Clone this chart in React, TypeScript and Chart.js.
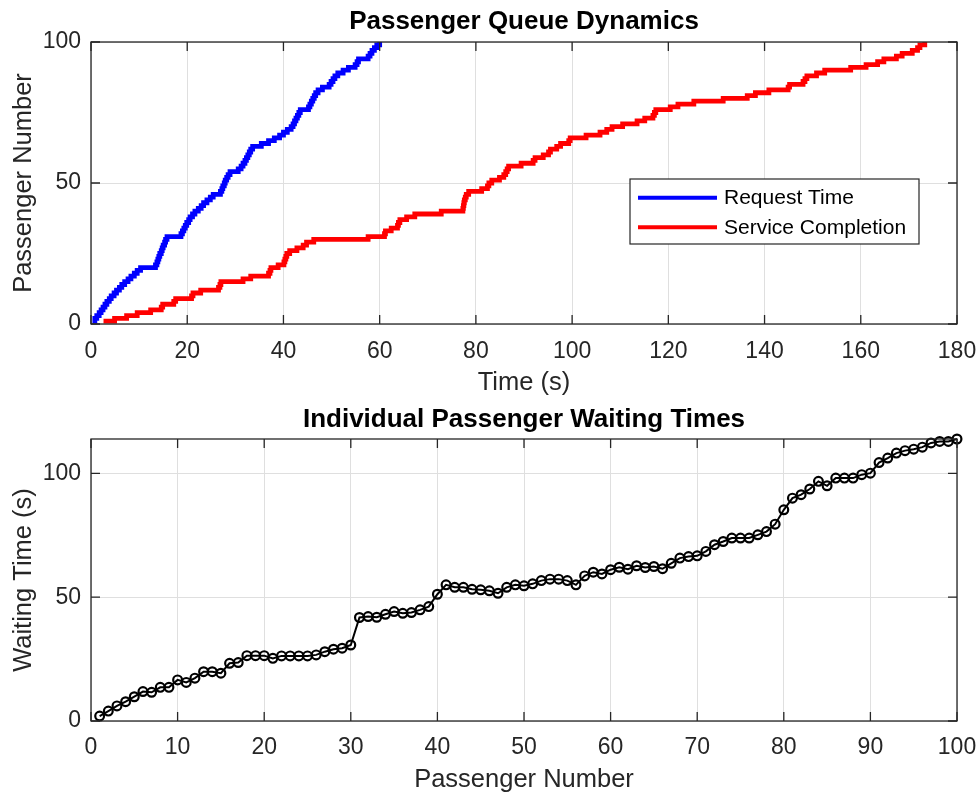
import React, { useEffect, useRef } from "react";
import { Chart, registerables } from "chart.js";

Chart.register(...registerables);

const FONT = "'Liberation Sans', Arial, Helvetica, sans-serif";
const AXIS_COLOR = "#262626";
const GRID_COLOR = "#dfdfdf";

// Time (s) at which each passenger (1..100) requested service
const requestTimes = [
  0.3, 0.8, 1.2, 1.7, 2.1, 2.5, 2.9, 3.3, 3.8, 4.2,
  4.8, 5.3, 5.9, 6.4, 7.0, 7.7, 8.3, 9.0, 9.6, 10.3,
  13.4, 13.7, 13.9, 14.1, 14.3, 14.6, 14.8, 15.0, 15.3, 15.5,
  15.8, 18.7, 19.0, 19.3, 19.6, 19.9, 20.3, 20.6, 21.1, 21.6,
  22.3, 22.9, 23.4, 24.1, 24.8, 25.4, 26.9, 27.2, 27.4, 27.7,
  27.9, 28.2, 28.5, 28.9, 30.6, 31.2, 31.6, 32.0, 32.3, 32.6,
  32.9, 33.2, 33.6, 35.4, 36.9, 38.1, 39.2, 40.0, 40.8, 41.6,
  42.0, 42.3, 42.6, 42.9, 43.2, 43.5, 45.2, 45.5, 45.8, 46.1,
  46.4, 46.7, 47.2, 48.1, 49.5, 49.9, 50.3, 50.7, 51.3, 52.4,
  53.5, 54.9, 55.3, 55.6, 57.6, 58.0, 58.4, 58.9, 59.4, 60.0,
];

// Time (s) at which each passenger's service was completed
const completionTimes = [
  2.6, 4.9, 7.4, 9.6, 12.4, 14.6, 14.9, 17.2, 17.6, 20.9,
  21.2, 22.8, 26.5, 26.8, 27.0, 31.6, 33.2, 36.9, 37.2, 37.4,
  38.9, 40.1, 40.3, 40.5, 40.7, 41.3, 42.8, 44.1, 44.8, 46.3,
  57.6, 61.0, 61.2, 62.4, 63.7, 63.9, 64.2, 65.6, 67.3, 72.8,
  77.3, 77.4, 77.5, 77.6, 77.8, 78.0, 78.5, 81.2, 82.4, 82.7,
  83.3, 84.9, 85.8, 86.2, 86.5, 86.8, 89.4, 91.9, 92.3, 94.0,
  95.1, 95.5, 96.8, 97.6, 99.3, 99.6, 102.9, 105.8, 107.2, 108.3,
  110.5, 113.5, 115.1, 116.8, 117.1, 117.4, 120.4, 122.0, 125.3, 131.4,
  136.4, 138.1, 140.9, 144.9, 145.2, 148.0, 148.4, 148.8, 150.8, 152.5,
  157.9, 161.1, 163.5, 164.8, 167.4, 168.6, 170.7, 171.8, 172.3, 173.3,
];

// Waiting time (s) of each passenger
const waitingTimes = [
  2.0, 4.0, 6.1, 7.8, 9.8, 11.9, 11.6, 13.6, 13.6, 16.6,
  15.6, 17.3, 19.9, 19.9, 19.3, 23.3, 23.6, 26.4, 26.4, 26.4,
  25.3, 26.3, 26.3, 26.3, 26.3, 26.7, 28.0, 29.0, 29.4, 30.7,
  41.8, 42.2, 41.9, 43.1, 44.2, 43.5, 43.8, 44.9, 46.2, 51.2,
  55.0, 54.0, 54.0, 53.2, 53.0, 52.6, 51.6, 54.0, 55.0, 54.6,
  55.4, 56.7, 57.3, 57.3, 56.7, 55.0, 58.6, 60.1, 59.4, 61.1,
  62.1, 61.3, 62.7, 62.0, 62.4, 61.5, 63.7, 65.8, 66.4, 66.7,
  68.5, 71.2, 72.5, 73.9, 73.9, 73.9, 75.2, 76.5, 79.5, 85.3,
  90.0, 91.4, 93.7, 96.8, 95.0, 98.1, 98.1, 98.1, 99.5, 100.1,
  104.4, 106.2, 108.2, 109.2, 109.8, 110.6, 112.3, 112.9, 112.9, 113.9,
];

// Axis tick values
const queueTimeTicks = [0, 20, 40, 60, 80, 100, 120, 140, 160, 180];
const queueCountTicks = [0, 50, 100];
const passengerTicks = [0, 10, 20, 30, 40, 50, 60, 70, 80, 90, 100];
const waitTicks = [0, 50, 100];

const TICK_LEN = 9;

// Box around the plot area with inward tick marks on all four sides
const framePlugin = {
  id: "axesFrame",
  afterDraw(chart: any) {
    const { ctx, chartArea: a, scales } = chart;
    ctx.save();
    ctx.strokeStyle = AXIS_COLOR;
    ctx.lineWidth = 1.3;
    ctx.beginPath();
    for (const t of scales.x.ticks) {
      const px = scales.x.getPixelForValue(t.value);
      ctx.moveTo(px, a.bottom);
      ctx.lineTo(px, a.bottom - TICK_LEN);
      ctx.moveTo(px, a.top);
      ctx.lineTo(px, a.top + TICK_LEN);
    }
    for (const t of scales.y.ticks) {
      const py = scales.y.getPixelForValue(t.value);
      ctx.moveTo(a.left, py);
      ctx.lineTo(a.left + TICK_LEN, py);
      ctx.moveTo(a.right, py);
      ctx.lineTo(a.right - TICK_LEN, py);
    }
    ctx.stroke();
    ctx.strokeRect(a.left, a.top, a.right - a.left, a.bottom - a.top);
    ctx.restore();
  },
};

// Boxed legend placed inside the plot area
const boxLegendPlugin = {
  id: "boxLegend",
  afterDraw(chart: any) {
    const { ctx, chartArea: a } = chart;
    const w = 289;
    const h = 65;
    const left = a.right - 38 - w;
    const top = a.top + 137;
    ctx.save();
    ctx.fillStyle = "#ffffff";
    ctx.fillRect(left, top, w, h);
    ctx.strokeStyle = AXIS_COLOR;
    ctx.lineWidth = 1.2;
    ctx.strokeRect(left, top, w, h);
    ctx.font = `21px ${FONT}`;
    ctx.textBaseline = "middle";
    ctx.textAlign = "left";
    chart.data.datasets.forEach((ds: any, i: number) => {
      const y = top + 18.7 + i * 29.6;
      ctx.strokeStyle = ds.borderColor;
      ctx.lineWidth = 4;
      ctx.beginPath();
      ctx.moveTo(left + 8, y);
      ctx.lineTo(left + 87, y);
      ctx.stroke();
      ctx.fillStyle = "#000000";
      ctx.fillText(ds.label, left + 94, y + 1);
    });
    ctx.restore();
  },
};

function fixedTicks(values: number[]) {
  return (scale: any) => {
    scale.ticks = values.map((v) => ({ value: v }));
  };
}

function axisOptions(
  min: number,
  max: number,
  ticks: number[],
  title: string,
  horizontal: boolean,
  titlePad: number,
  size: number,
  labelPad: number
) {
  return {
    type: "linear",
    min,
    max,
    afterBuildTicks: fixedTicks(ticks),
    afterFit: (scale: any) => {
      if (horizontal) scale.height = size;
      else scale.width = size;
      scale.paddingLeft = 0;
      scale.paddingRight = 0;
      scale.paddingTop = 0;
      scale.paddingBottom = 0;
    },
    grid: { color: GRID_COLOR, lineWidth: 1, drawTicks: false },
    border: { display: false },
    ticks: {
      color: AXIS_COLOR,
      font: { family: FONT, size: 23 },
      padding: labelPad,
      maxRotation: 0,
      autoSkip: false,
    },
    title: {
      display: true,
      text: title,
      color: AXIS_COLOR,
      font: { family: FONT, size: 25.5, lineHeight: 1.2 },
      padding: horizontal ? { top: 0, bottom: titlePad } : { top: titlePad, bottom: 0 },
    },
  };
}

function titleOptions(text: string, padTop: number, padBottom: number) {
  return {
    display: true,
    text,
    fullSize: false,
    color: "#000000",
    font: { family: FONT, size: 26, weight: "bold", lineHeight: 1.2 },
    padding: { top: padTop, bottom: padBottom },
  };
}

function queueConfig(): any {
  return {
    type: "line",
    data: {
      datasets: [
        {
          label: "Request Time",
          data: requestTimes.map((t, i) => ({ x: t, y: i + 1 })),
          borderColor: "#0000ff",
          borderWidth: 4.8,
          stepped: "before",
          pointRadius: 0,
          fill: false,
        },
        {
          label: "Service Completion",
          data: completionTimes.map((t, i) => ({ x: t, y: i + 1 })),
          borderColor: "#ff0000",
          borderWidth: 4.8,
          stepped: "before",
          pointRadius: 0,
          fill: false,
        },
      ],
    },
    options: {
      animation: false,
      responsive: false,
      devicePixelRatio: 1,
      layout: { padding: { left: 0, right: 22, top: 0, bottom: 0 } },
      plugins: {
        legend: { display: false },
        tooltip: { enabled: false },
        title: titleOptions("Passenger Queue Dynamics", 6, 4.8),
      },
      scales: {
        x: axisOptions(0, 180, queueTimeTicks, "Time (s)", true, 0, 74, 14),
        y: axisOptions(0, 100, queueCountTicks, "Passenger Number", false, 8.5, 91, 10),
      },
    },
    plugins: [framePlugin, boxLegendPlugin],
  };
}

function waitingConfig(): any {
  return {
    type: "line",
    data: {
      datasets: [
        {
          label: "Waiting Time",
          data: waitingTimes.map((w, i) => ({ x: i + 1, y: w })),
          borderColor: "#000000",
          borderWidth: 2,
          pointRadius: 4.4,
          pointBorderWidth: 2.2,
          pointBorderColor: "#000000",
          pointBackgroundColor: "rgba(0,0,0,0)",
          tension: 0,
          fill: false,
          clip: false,
        },
      ],
    },
    options: {
      animation: false,
      responsive: false,
      devicePixelRatio: 1,
      layout: { padding: { left: 0, right: 22, top: 0, bottom: 0 } },
      plugins: {
        legend: { display: false },
        tooltip: { enabled: false },
        title: titleOptions("Individual Passenger Waiting Times", 6, 3.8),
      },
      scales: {
        x: axisOptions(0, 100, passengerTicks, "Passenger Number", true, 1, 75, 13),
        y: axisOptions(0, Math.max(...waitingTimes), waitTicks, "Waiting Time (s)", false, 8.5, 91, 10),
      },
    },
    plugins: [framePlugin],
  };
}

export default function App() {
  const topRef = useRef<HTMLCanvasElement>(null);
  const bottomRef = useRef<HTMLCanvasElement>(null);

  useEffect(() => {
    const queueChart = new Chart(topRef.current as HTMLCanvasElement, queueConfig());
    const waitChart = new Chart(bottomRef.current as HTMLCanvasElement, waitingConfig());
    return () => {
      queueChart.destroy();
      waitChart.destroy();
    };
  }, []);

  return (
    <div
      style={{
        position: "absolute",
        left: 0,
        top: 0,
        width: 979,
        height: 796,
        background: "#ffffff",
      }}
    >
      <canvas ref={topRef} width={979} height={398} style={{ display: "block" }} />
      <canvas ref={bottomRef} width={979} height={398} style={{ display: "block" }} />
    </div>
  );
}
